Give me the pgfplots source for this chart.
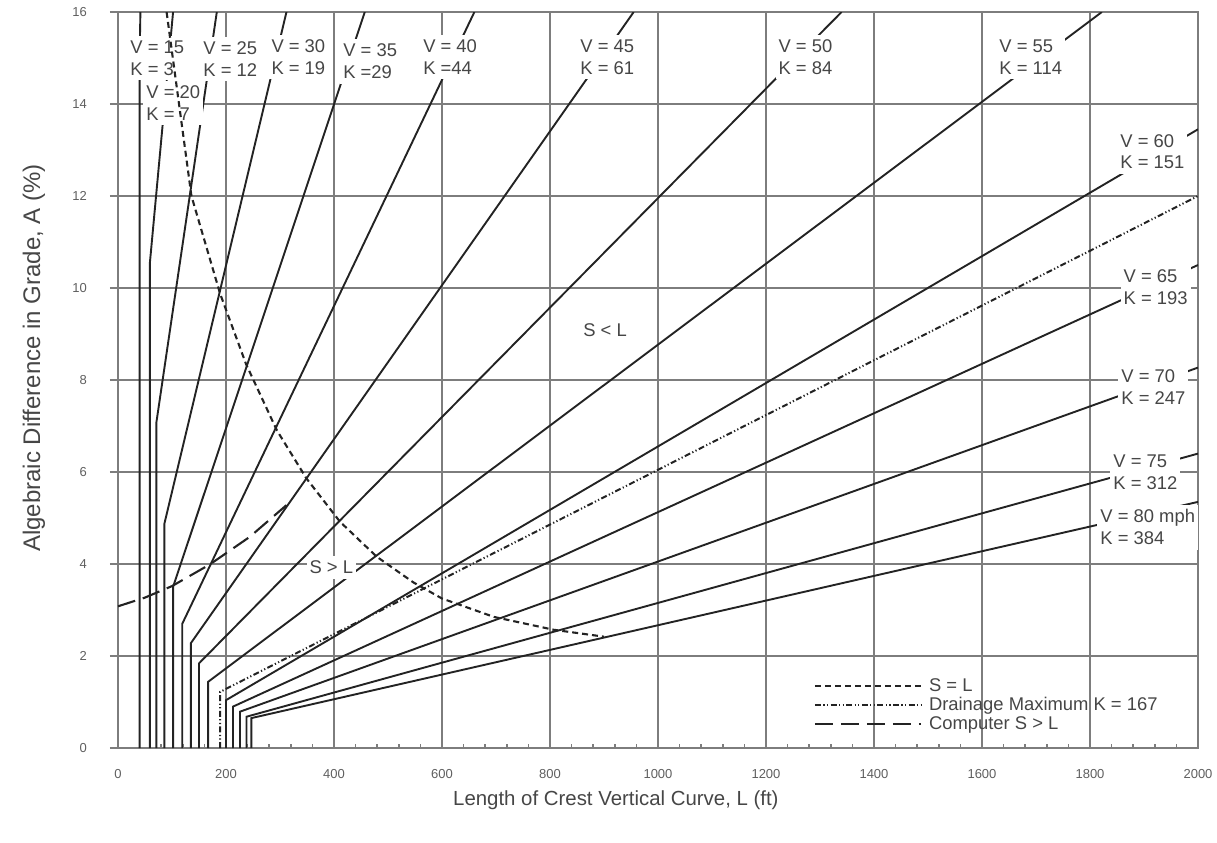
\documentclass[border=0pt]{standalone}
\usepackage{fontspec}
\setmainfont{Liberation Sans}
\usepackage{pgfplots}
\pgfplotsset{compat=1.18}

\definecolor{gridc}{RGB}{125,125,125}
\definecolor{linec}{RGB}{35,35,35}
\definecolor{txtc}{RGB}{70,70,70}
\definecolor{tickc}{RGB}{95,95,95}

\tikzset{vlab/.style={anchor=west, align=left, fill=white, inner xsep=1.5pt, inner ysep=2.5pt,
  text=txtc, font=\fontsize{9.2}{10.8}\selectfont}}

\begin{document}
\begin{tikzpicture}
\begin{axis}[
  scale only axis, width=540pt, height=368pt,
  xmin=0, xmax=2000, ymin=0, ymax=16,
  xtick={0,200,...,2000}, ytick={0,2,...,16},
  minor x tick num=4,
  tick pos=left, tick align=inside,
  major tick length=4pt, minor tick length=2pt,
  y tick style={xshift=-4pt},
  grid=major, major grid style={gridc, line width=0.9pt},
  axis line style={gridc, line width=0.9pt},
  every tick/.style={gridc, line width=0.8pt},
  ticklabel style={font=\fontsize{6.5}{7}\selectfont, text=tickc},
  /pgf/number format/assume math mode=true,
  /pgf/number format/1000 sep={},
  yticklabel style={xshift=-12pt},
  xticklabel style={yshift=-7pt},
  xlabel={Length of Crest Vertical Curve, L (ft)},
  ylabel={Algebraic Difference in Grade, A (\%)},
  every axis x label/.style={at={(axis description cs:0.461,-0.0707)}, anchor=center,
    font=\fontsize{10.2}{12}\selectfont, text=txtc},
  every axis y label/.style={at={(axis description cs:-0.0778,0.53)}, rotate=90, anchor=center,
    font=\fontsize{12}{12}\selectfont, text=txtc},
  every axis plot/.append style={line width=0.95pt},
  legend style={at={(0.644,0.098)}, anchor=north west, draw=none, fill=none,
    inner sep=0pt, row sep=-0.5pt, column sep=2.5pt, font=\fontsize{9.2}{10}\selectfont, text=txtc,
    cells={anchor=west}, nodes={inner sep=1pt}},
  legend image code/.code={\draw[#1] (0pt,0pt) -- (53pt,0pt);},
]
% legend entries first
\addlegendimage{linec, line width=1.05pt, dash pattern=on 3pt off 2pt}
\addlegendentry{S = L}

% drainage maximum K = 167
\addplot[linec, line width=1pt, dash pattern=on 3pt off 1.2pt on 0.6pt off 1.2pt on 0.6pt off 1.2pt]
  coordinates {(189,0) (189,1.22) (2000,12.0)};
\addlegendentry{Drainage Maximum K = 167}

% computed S > L
\addplot[linec, line width=1.05pt, dash pattern=on 9pt off 4pt]
  coordinates {(0,3.08) (50,3.27) (100,3.52) (170,3.99) (244,4.59) (312,5.28)};
\addlegendentry{Computer S > L}

% design speed lines
\addplot[linec, forget plot] coordinates {(40,0) (40,15) (41.5,16)};
\addplot[linec, forget plot] coordinates {(59,0) (59,10.54) (102,16)};
\addplot[linec, forget plot] coordinates {(71,0) (71,7.07) (183,16)};
\addplot[linec, forget plot] coordinates {(86,0) (86,4.88) (312,16)};
\addplot[linec, forget plot] coordinates {(102,0) (102,3.5) (457,16)};
\addplot[linec, forget plot] coordinates {(119,0) (119,2.7) (660,16)};
\addplot[linec, forget plot] coordinates {(135,0) (135,2.28) (955,16)};
\addplot[linec, forget plot] coordinates {(150,0) (150,1.84) (1340,16)};
\addplot[linec, forget plot] coordinates {(167,0) (167,1.44) (1822,16)};
\addplot[linec, forget plot] coordinates {(200,0) (200,1.04) (2000,13.45)};
\addplot[linec, forget plot] coordinates {(213,0) (213,0.90) (2000,10.5)};
\addplot[linec, forget plot] coordinates {(226,0) (226,0.79) (2000,8.27)};
\addplot[linec, forget plot] coordinates {(238,0) (238,0.68) (2000,6.4)};
\addplot[linec, forget plot] coordinates {(247,0) (247,0.65) (2000,5.35)};

% labels
\node[vlab] at (axis cs:16.7,15.0) {V = 15\\K = 3};
\node[vlab] at (axis cs:46.3,14.02) {V = 20\\K = 7};
\node[vlab] at (axis cs:152,14.98) {V = 25\\K = 12};
\node[vlab] at (axis cs:278,15.02) {V = 30\\K = 19};
\node[vlab] at (axis cs:411,14.93) {V = 35\\K =29};
\node[vlab] at (axis cs:559,15.02) {V = 40\\K =44};
\node[vlab] at (axis cs:850,15.02) {V = 45\\K = 61};
\node[vlab] at (axis cs:1217,15.02) {V = 50\\K = 84};
\node[vlab] at (axis cs:1626,15.02) {V = 55\\K = 114};
\node[vlab] at (axis cs:1850,12.96) {V = 60\\K = 151};
\node[vlab] at (axis cs:1856,10.02) {V = 65\\K = 193};
\node[vlab] at (axis cs:1852,7.85) {V = 70\\K = 247};
\node[vlab] at (axis cs:1837,6.0) {V = 75\\K = 312};
\node[vlab] at (axis cs:1813,4.8) {V = 80 mph\\K = 384};
\node[vlab, anchor=center] at (axis cs:902,9.09) {S < L};
\node[vlab, anchor=center] at (axis cs:395,3.93) {S > L};

% S = L boundary, drawn over the labels
\addplot[linec, line width=1.05pt, dash pattern=on 3pt off 2pt, forget plot]
  coordinates {(90,16) (113,14) (136,12) (189,9.88) (237,8.35) (294,6.91) (349,5.86)
    (411,4.92) (479,4.16) (547,3.6) (600,3.25) (696,2.85) (807,2.57) (900,2.42)};
\end{axis}
\pgfresetboundingbox
\path[use as bounding box] (-59pt,-47pt) rectangle (549.5pt,374pt);
\end{tikzpicture}
\end{document}
